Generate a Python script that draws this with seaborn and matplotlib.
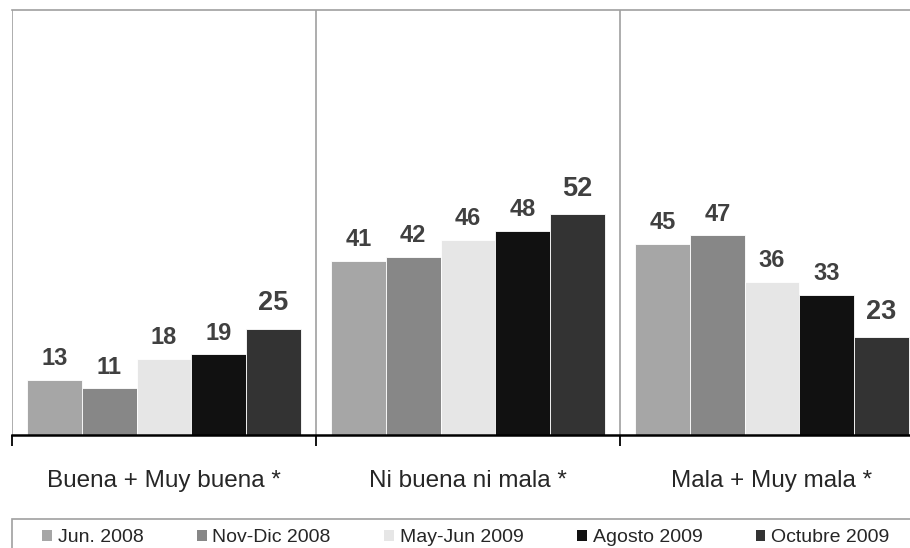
import matplotlib
matplotlib.use("Agg")
import matplotlib.pyplot as plt
import seaborn as sns
import pandas as pd
from matplotlib.patches import Patch, Rectangle

categories = ["Buena + Muy buena *", "Ni buena ni mala *", "Mala + Muy mala *"]
series = ["Jun. 2008", "Nov-Dic 2008", "May-Jun 2009", "Agosto 2009", "Octubre 2009"]
values = {
    "Jun. 2008": [13, 41, 45],
    "Nov-Dic 2008": [11, 42, 47],
    "May-Jun 2009": [18, 46, 36],
    "Agosto 2009": [19, 48, 33],
    "Octubre 2009": [25, 52, 23],
}
colors = ["#a6a6a6", "#878787", "#e6e6e6", "#111111", "#333333"]

rows = []
for s in series:
    for c, v in zip(categories, values[s]):
        rows.append({"cat": c, "serie": s, "val": v})
df = pd.DataFrame(rows)

sns.set_style("white")
plt.rcParams['font.family'] = ['Liberation Sans', 'DejaVu Sans']

W, H = 910, 548
fig = plt.figure(figsize=(W / 100, H / 100), dpi=100)
left, right, top, bottom = 12, 924, 10, 435
ax = fig.add_axes([left / W, 1 - bottom / H, (right - left) / W, (bottom - top) / H])

sns.barplot(data=df, x="cat", y="val", hue="serie", hue_order=series, order=categories,
            palette=colors, width=0.9, ax=ax, edgecolor="white", linewidth=0.6,
            legend=False, saturation=1)

ax.set_ylim(0, 100)
ax.set_xlim(-0.5, 2.5)
ax.set_xlabel("")
ax.set_ylabel("")
ax.set_yticks([])

for i, cont in enumerate(ax.containers):
    big = (i == len(ax.containers) - 1)
    ax.bar_label(cont, padding=9 if big else 7, fontsize=19.5 if big else 17, fontweight="bold",
                 color="#404040")

for sp in ["left", "right"]:
    ax.spines[sp].set_visible(False)
ax.spines["top"].set_color("#a0a0a0")
ax.spines["top"].set_linewidth(1.2)
ax.spines["bottom"].set_color("black")
ax.spines["bottom"].set_linewidth(1.8)

for xb in [-0.5, 0.5, 1.5]:
    ax.axvline(xb, color="#a0a0a0", linewidth=1.2, zorder=0)

ax.set_xticks([0, 1, 2])
ax.set_xticklabels(categories, fontsize=17.5)
ax.set_xticks([-0.5, 0.5, 1.5], minor=True)
ax.tick_params(axis="x", which="major", length=0, pad=25, bottom=True)
ax.tick_params(axis="x", which="minor", length=8, width=1.3, color="black",
               direction="out", bottom=True)

# legend frame
fig.patches.append(Rectangle((12 / W, -0.05), 1.0, (1 - 519 / H) + 0.05,
                             transform=fig.transFigure, fill=False,
                             edgecolor="#a0a0a0", linewidth=1.2))

handles = [Patch(facecolor=c, edgecolor="none") for c in colors]
leg = fig.legend(handles, series, loc="center left", bbox_to_anchor=(42 / W, 1 - 538 / H),
                 ncol=5, frameon=False, fontsize=14, handlelength=0.5,
                 handleheight=0.5, handletextpad=0.3, borderaxespad=0, borderpad=0,
                 columnspacing=2.75)

fig.savefig("out.png", dpi=100)
